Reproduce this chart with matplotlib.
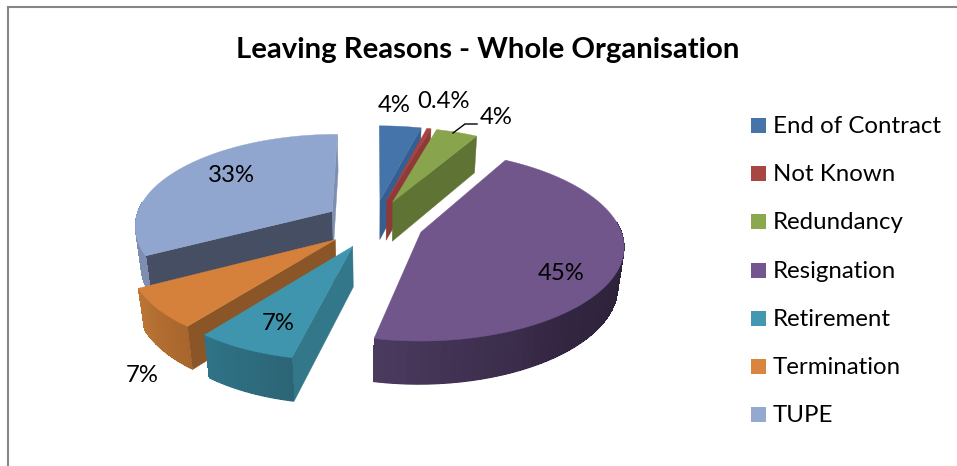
import numpy as np
import matplotlib
matplotlib.use('Agg')
import matplotlib.pyplot as plt
from matplotlib.colors import LinearSegmentedColormap
from matplotlib.patches import Polygon, Rectangle

plt.rcParams['font.family'] = ['Lato', 'DejaVu Sans']

reasons = ['End of Contract', 'Not Known', 'Redundancy', 'Resignation',
           'Retirement', 'Termination', 'TUPE']
shares = [4, 0.4, 4, 45, 7, 7, 33]
share_labels = ['4%', '0.4%', '4%', '45%', '7%', '7%', '33%']

top_colors = ['#4474aa', '#aa4340', '#88a54e', '#71568c', '#3f95ad', '#d5813c', '#91a6ce']
key_colors = ['#4674a8', '#a84644', '#8ba84f', '#735690', '#4298b0', '#d9853d', '#93a9d0']
cut_colors = ['#355f91', '#8e3a38', '#5f7335', '#3a2c4c', '#33788a', '#8a5628', '#454e63']
rim_colors = [['#355f91'] * 2, ['#8e3a38'] * 2, ['#5f7335'] * 2,
              ['#2a2036', '#322540', '#4a3a5e'],
              ['#2c6576', '#2f7387'], ['#a8652d', '#ba7535'], ['#7e8eb0', '#7e8eb0']]

# pie projection, all in pixels of the saved figure
CX, CY = 374, 223.5
RX, RY = 198, 91
DEPTH = 41
EXPLODE_X, EXPLODE_Y = 0.25, 0.265
PERSP_Y = 0.14
PERSP_Z = 0.025
TILT = 7
DRAW_ORDER = [0, 1, 2, 6, 3, 5, 4]

label_xy = [(394, 104), (444, 100), (496, 117), (561, 273), (278, 322), (142, 374), (231, 175)]


def project(x, y, z=0.0):
    s = 1 / (1 + PERSP_Y * y + PERSP_Z * z)
    # the near half of the plate leans slightly to the left
    lean = TILT * min(y, 0) ** 2
    return CX + RX * x * s - lean, CY - RY * y * s + DEPTH * z * s


def wedge(ax, start, end, top, cut, rim):
    mid = np.radians((start + end) / 2)
    ox, oy = EXPLODE_X * np.sin(mid), EXPLODE_Y * np.cos(mid)

    def point(theta, z=0.0, radius=1.0):
        t = np.radians(theta)
        return project(ox + radius * np.sin(t), oy + radius * np.cos(t), z)

    def cut_face(theta, color):
        pts = [point(theta, 0, 0), point(theta, 0), point(theta, 1), point(theta, 1, 0)]
        ax.add_patch(Polygon(pts, fc=color, ec=color, lw=0.3))

    # flat cut faces that turn towards the viewer
    if np.sin(np.radians(start)) < 0:
        cut_face(start, cut)
    if np.sin(np.radians(end)) > -1e-6:
        cut_face(end, cut if end < 359 else rim[-1])

    # outer rim: a smooth base, then thin strips so the shading can run along it
    # it starts a little past 90 and 270 degrees, the top plate hides the overlap
    lo, hi = max(start, 84), min(end, 276)
    if hi > lo:
        cmap = LinearSegmentedColormap.from_list('rim', rim)
        edges = np.linspace(lo, hi, 40)
        base = [point(t) for t in edges] + [point(t, 1) for t in edges[::-1]]
        ax.add_patch(Polygon(base, fc=cmap(0.5), ec='none'))
        for i in range(len(edges) - 1):
            a, b = edges[i], edges[i + 1]
            ax.add_patch(Polygon([point(a), point(b), point(b, 0.98), point(a, 0.98)],
                                 fc=cmap(i / (len(edges) - 2)), ec='none', antialiased=False))

    arc = np.linspace(start, end, 80)
    pts = [point(start, 0, 0)] + [point(t) for t in arc]
    ax.add_patch(Polygon(pts, fc=top, ec=top, lw=0.3))


fig = plt.figure(figsize=(9.57, 4.66), dpi=100)
ax = fig.add_axes([0, 0, 1, 1])
ax.set_xlim(0, 957)
ax.set_ylim(466, 0)
ax.axis('off')

# chart frame, it runs off the right and bottom of the image
ax.plot([7.5, 7.5, 957], [466, 7, 7], color='#868686', lw=1.5, solid_joinstyle='miter')

ax.text(487.5, 50, 'Leaving Reasons - Whole Organisation', fontsize=21.1, fontweight='bold',
        ha='center', va='center', color='black')

bounds = np.concatenate([[0], np.cumsum(shares)]) / sum(shares) * 360
for i in DRAW_ORDER:
    wedge(ax, bounds[i], bounds[i + 1], top_colors[i], cut_colors[i], rim_colors[i])

ax.plot([453, 465, 477], [133, 124, 124], color='black', lw=1)
for text, (x, y) in zip(share_labels, label_xy):
    ax.text(x, y + 1, text, fontsize=17.2, ha='center', va='center', color='black')

# legend
for i, name in enumerate(reasons):
    y = 125.5 + i * 48.2
    ax.add_patch(Rectangle((751, y - 7.5), 15, 15, fc=key_colors[i], ec='none'))
    ax.text(773, y + 1, name, fontsize=17.3, ha='left', va='center', color='black')

fig.savefig('out.png', dpi=100)
